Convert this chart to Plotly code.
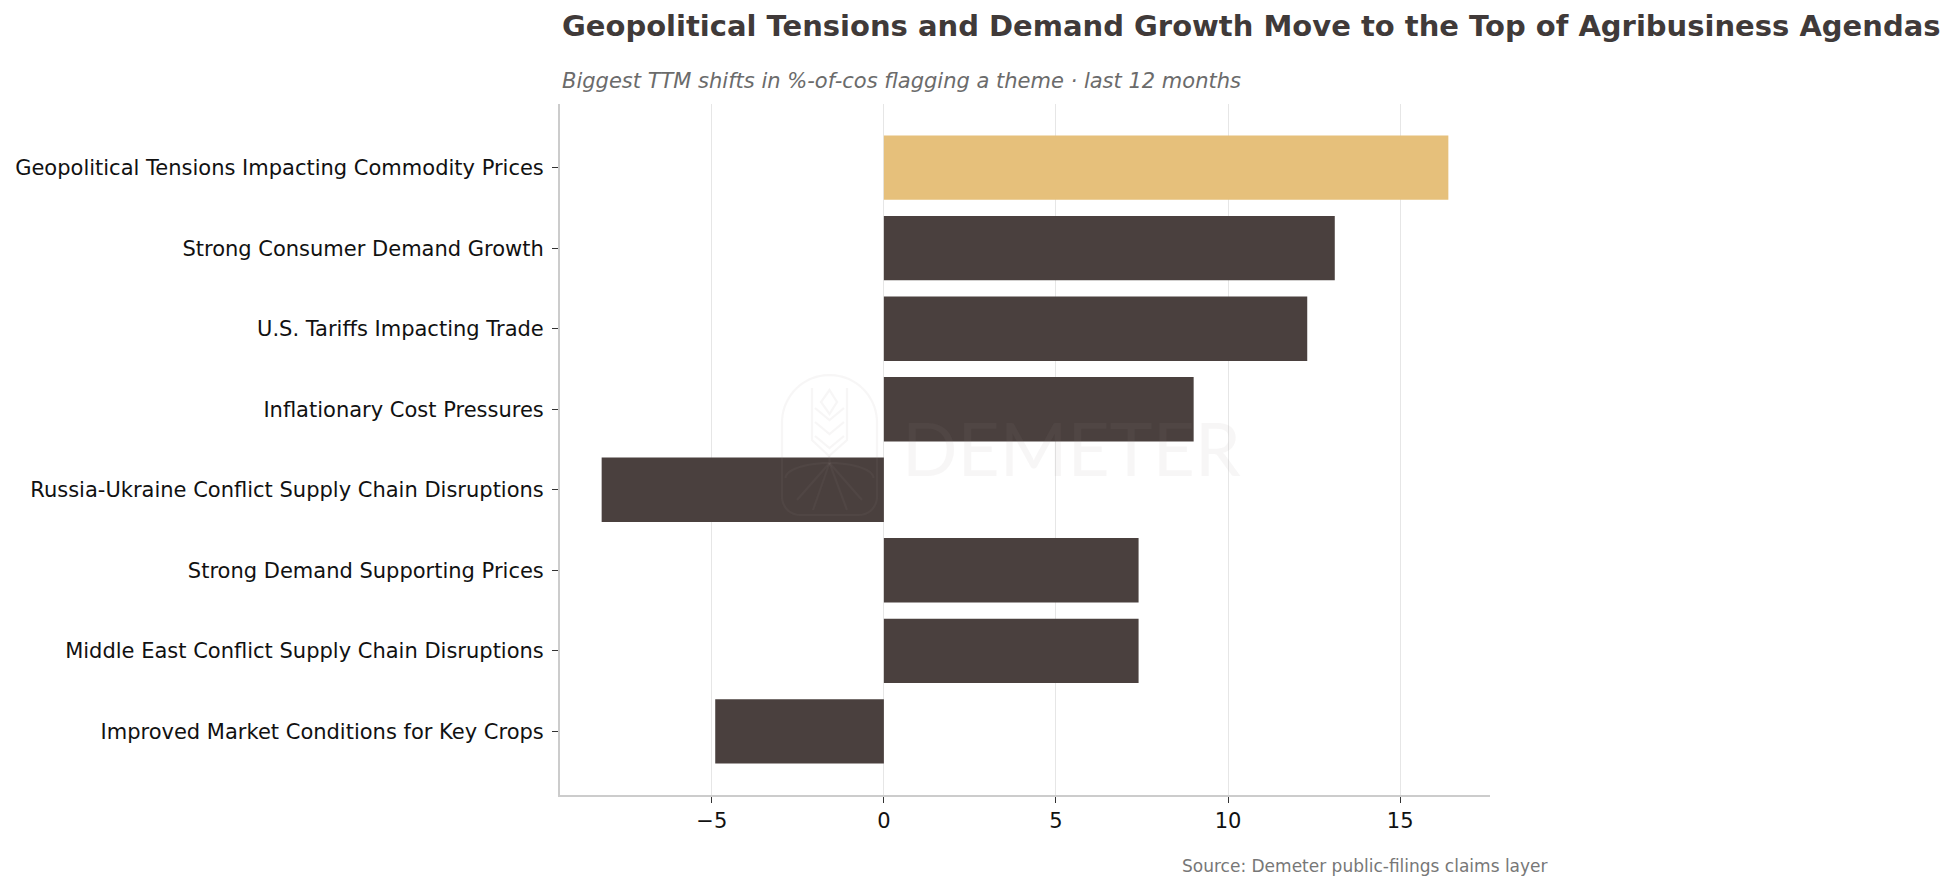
import numpy as np
import plotly.graph_objects as go

# theme shifts, top to bottom as shown
themes = [
    "Geopolitical Tensions Impacting Commodity Prices",
    "Strong Consumer Demand Growth",
    "U.S. Tariffs Impacting Trade",
    "Inflationary Cost Pressures",
    "Russia-Ukraine Conflict Supply Chain Disruptions",
    "Strong Demand Supporting Prices",
    "Middle East Conflict Supply Chain Disruptions",
    "Improved Market Conditions for Key Crops",
]
shift_pp = [16.4, 13.1, 12.3, 9.0, -8.2, 7.4, 7.4, -4.9]
highlight = "Geopolitical Tensions Impacting Commodity Prices"

tick_vals = [-5, 0, 5, 10, 15]
tick_text = ["\u22125", "0", "5", "10", "15"]

DARK = "#4a403e"
GOLD = "#e6c07b"
FONT = "DejaVu Sans"

W, H = 1960, 892
OFF = 8  # page body margin
L, R, T, B = 560 - OFF, 1490 - OFF, 104 - OFF, 795 - OFF  # plot area in pixels

colors = [GOLD if t == highlight else DARK for t in themes]

fig = go.Figure()
fig.add_trace(go.Bar(
    x=shift_pp, y=themes, orientation="h",
    marker=dict(color=colors, line=dict(width=0)),
    width=0.8, hoverinfo="x+y",
))


def px(x, y):
    # screen pixel -> paper coords
    x, y = x - OFF, y - OFF
    return (x - L) / (R - L), (B - y) / (B - T)


def poly(pts, close=False):
    s = ""
    for i, (x, y) in enumerate(pts):
        a, b = px(x, y)
        s += ("M" if i == 0 else "L") + f"{a:.5f},{b:.5f} "
    return s + ("Z" if close else "")


# faint logo watermark
wm = "rgba(150,145,140,0.08)"
lw = 2.2
cx, top, bot, r = 829.5, 375, 515, 47.5
pts = []
for a in np.linspace(np.pi, 0, 40):
    pts.append((cx + r * np.cos(a), top + r - r * np.sin(a)))
rb = 18
for a in np.linspace(0, np.pi / 2, 10):
    pts.append((cx + r - rb + rb * np.cos(a), bot - rb + rb * np.sin(a)))
for a in np.linspace(np.pi / 2, np.pi, 10):
    pts.append((cx - r + rb + rb * np.cos(a), bot - rb + rb * np.sin(a)))
shapes = [dict(type="path", path=poly(pts, True), line=dict(color=wm, width=lw))]
# horizon arc and rays
arc = [(cx + 44 * np.cos(a), 478 - 15 * np.sin(a)) for a in np.linspace(np.pi, 0, 30)]
shapes.append(dict(type="path", path=poly(arc), line=dict(color=wm, width=lw)))
for ex, ey in [(797, 500), (813, 510), (847, 510), (862, 500)]:
    shapes.append(dict(type="path", path=poly([(cx, 463), (ex, ey)]), line=dict(color=wm, width=lw)))
# wheat ear
shapes.append(dict(type="path", path=poly([(812, 388), (812, 440), (829, 456), (847, 440), (847, 388)]),
                   line=dict(color=wm, width=lw)))
shapes.append(dict(type="path", path=poly([(cx, 456), (cx, 463)]), line=dict(color=wm, width=lw)))
for yy in [408, 422, 436]:
    shapes.append(dict(type="path", path=poly([(815, yy), (cx, yy + 12), (844, yy)]),
                       line=dict(color=wm, width=lw)))
shapes.append(dict(type="path", path=poly([(cx, 390), (821, 402), (cx, 414), (837, 402)], True),
                   line=dict(color=wm, width=lw)))
for s in shapes:
    s.update(xref="paper", yref="paper", layer="above")


def at(x, y):
    return px(x, y)


tx, ty = at(560, 26)
sx, sy = at(560, 81)
ox, oy = at(1550, 866)
wx, wy = at(1071, 448)

fig.update_layout(
    width=W, height=H,
    margin=dict(l=L, r=W - R, t=T, b=H - B, autoexpand=False),
    paper_bgcolor="white", plot_bgcolor="white",
    font=dict(family=FONT, size=21, color="#111111"),
    showlegend=False,
    bargap=0.2,
    shapes=shapes,
    xaxis=dict(
        range=[-9.41, 17.61], tickvals=tick_vals, ticktext=tick_text,
        showgrid=True, gridcolor="#e6e6e6", gridwidth=1, zeroline=False,
        showline=True, linecolor="#cccccc", linewidth=2,
        ticks="outside", ticklen=6, tickwidth=1.2, tickcolor="#333333",
        tickfont=dict(size=21, color="#111111"),
    ),
    yaxis=dict(
        type="category", categoryorder="array", categoryarray=themes,
        range=[7.79, -0.79], showgrid=False, zeroline=False,
        showline=True, linecolor="#cccccc", linewidth=2,
        ticks="outside", ticklen=6, tickwidth=1.2, tickcolor="#333333",
        ticklabelstandoff=4,
        tickfont=dict(size=21, color="#111111"),
    ),
    annotations=[
        dict(text="<b>Geopolitical Tensions and Demand Growth Move to the Top of Agribusiness Agendas</b>",
             xref="paper", yref="paper", x=tx, y=ty, xanchor="left", yanchor="middle",
             showarrow=False, font=dict(size=29, color="#403a39")),
        dict(text="<i>Biggest TTM shifts in %-of-cos flagging a theme \u00b7 last 12 months</i>",
             xref="paper", yref="paper", x=sx, y=sy, xanchor="left", yanchor="middle",
             showarrow=False, font=dict(size=21, color="#6b6b6b")),
        dict(text="Source: Demeter public-filings claims layer",
             xref="paper", yref="paper", x=ox, y=oy, xanchor="right", yanchor="middle",
             showarrow=False, font=dict(size=17, color="#777777")),
        dict(text="DEMETER", xref="paper", yref="paper",
             x=wx, y=wy, xanchor="center", yanchor="middle",
             showarrow=False, font=dict(size=73, color=wm, family="Lato")),
    ],
)

fig.write_html("out.html")
